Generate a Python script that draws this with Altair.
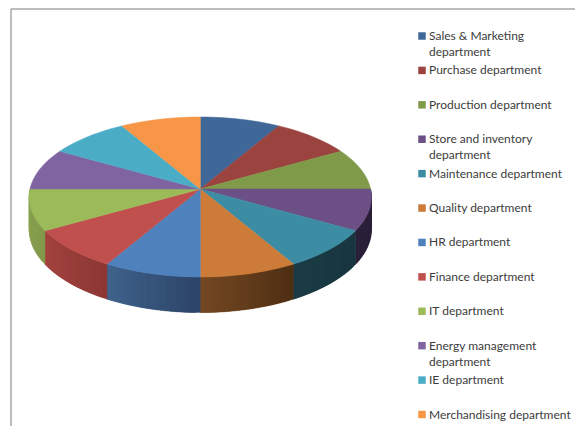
import math
import altair as alt
import pandas as pd

departments = [
    "Sales & Marketing\ndepartment", "Purchase department", "Production department",
    "Store and inventory\ndepartment", "Maintenance department", "Quality department",
    "HR department", "Finance department", "IT department",
    "Energy management\ndepartment", "IE department", "Merchandising department",
]
shares = [1, 1, 1, 1, 1, 1, 1, 1, 1, 1, 1, 1]
top_colors = ["#3F6797", "#9B433F", "#7F9A48", "#6B4F85", "#3C8DA3", "#CC7B38",
              "#4F81BD", "#C0504D", "#9BBB59", "#8064A2", "#4BACC6", "#F79646"]
wall_left = ["#3F6797", "#9B433F", "#7F9A48", "#2B203A", "#1A3B45", "#744822",
             "#40638C", "#A5433F", "#8CA552", "#8064A2", "#4BACC6", "#F79646"]
wall_right = ["#3F6797", "#9B433F", "#7F9A48", "#2B203A", "#18363F", "#4E2E13",
              "#2C4467", "#8C3835", "#82994B", "#8064A2", "#4BACC6", "#F79646"]

CX, CY, RX, RY, P, DEPTH = 200.3, 189, 170.3, 79.2, 0.1, 32


def rim(deg, drop=False):
    a = math.radians(deg)
    u, v = math.sin(a), -math.cos(a)
    w = 1 - P * v
    x = CX + RX * u / w
    y = CY + RY * v / w + (DEPTH / w if drop else 0)
    return x, y


def mix(c1, c2, t):
    p = [int(c1[i:i + 2], 16) for i in (1, 3, 5)]
    q = [int(c2[i:i + 2], 16) for i in (1, 3, 5)]
    return "#%02x%02x%02x" % tuple(round(a + (b - a) * t) for a, b in zip(p, q))


total = sum(shares)
walls, tops = [], []
start = 0.0
for k, share in enumerate(shares):
    sweep = 360 * share / total
    n = 12
    pts = [(CX, CY)] + [rim(start + sweep * j / n) for j in range(n + 1)]
    for i, (x, y) in enumerate(pts):
        tops.append(dict(key=f"t{k:02d}", i=i, x=x, y=y, col=top_colors[k]))
    if 90 <= start < 270:
        m = 20
        for j in range(m):
            a0 = start + sweep * j / m
            # each strip runs on to the slice's end edge, later strips cover it, so no seams show
            a1 = min(start + sweep * (j + 2) / m, start + sweep)
            quad = [rim(a0), rim(a1), rim(a1, True), rim(a0, True)]
            col = mix(wall_right[k], wall_left[k], (j + 0.5) / m)
            for i, (x, y) in enumerate(quad):
                walls.append(dict(key=f"w{k:02d}{j:02d}", i=i, x=x, y=y, col=col))
    start += sweep

x_enc = alt.X("x:Q", scale=alt.Scale(domain=[8, 575], range=[0, 567]), axis=None)
y_enc = alt.Y("y:Q", scale=alt.Scale(domain=[8, 426], range=[0, 418]), axis=None)


def poly(rows, sw):
    return alt.Chart(pd.DataFrame(rows)).mark_line(interpolate="linear-closed", strokeWidth=sw, fill="#000").encode(
        x=x_enc, y=y_enc, order="i:Q", detail="key:N",
        fill=alt.Fill("col:N", scale=None, legend=None),
        stroke=alt.Stroke("col:N", scale=None, legend=None),
    )


legend_df = pd.DataFrame({"label": departments, "row": list(range(len(departments))), "col": top_colors})
row_y = alt.Y("row:Q", scale=alt.Scale(domain=[0, 11], range=[28, 406.5]), axis=None)

squares = alt.Chart(legend_df).mark_square(size=56, opacity=1).encode(
    x=alt.value(414), y=row_y, fill=alt.Fill("col:N", scale=None, legend=None))
labels = alt.Chart(legend_df).mark_text(
    align="left", baseline="alphabetic", dy=4, lineBreak="\n", lineHeight=16,
    font="Lato", fontSize=12, color="#3c3c3c",
).encode(x=alt.value(421), y=row_y, text="label:N")

frame_left = alt.Chart(pd.DataFrame({"a": [0]})).mark_rule(color="#a6a6a6", strokeWidth=1.5).encode(
    x=alt.value(3), y=alt.value(1), y2=alt.value(418))
frame_top = alt.Chart(pd.DataFrame({"a": [0]})).mark_rule(color="#a6a6a6", strokeWidth=1.5).encode(
    y=alt.value(1), x=alt.value(3), x2=alt.value(567))

chart = alt.layer(frame_left, frame_top, poly(walls, 0.3), poly(tops, 0.5), squares, labels).resolve_scale(
    y="independent"
).properties(
    width=567, height=418, padding=0, autosize=alt.AutoSizeParams(type="none")
).configure_view(stroke=None)

chart.save("out.html", embed_options={"renderer": "svg", "actions": False})
